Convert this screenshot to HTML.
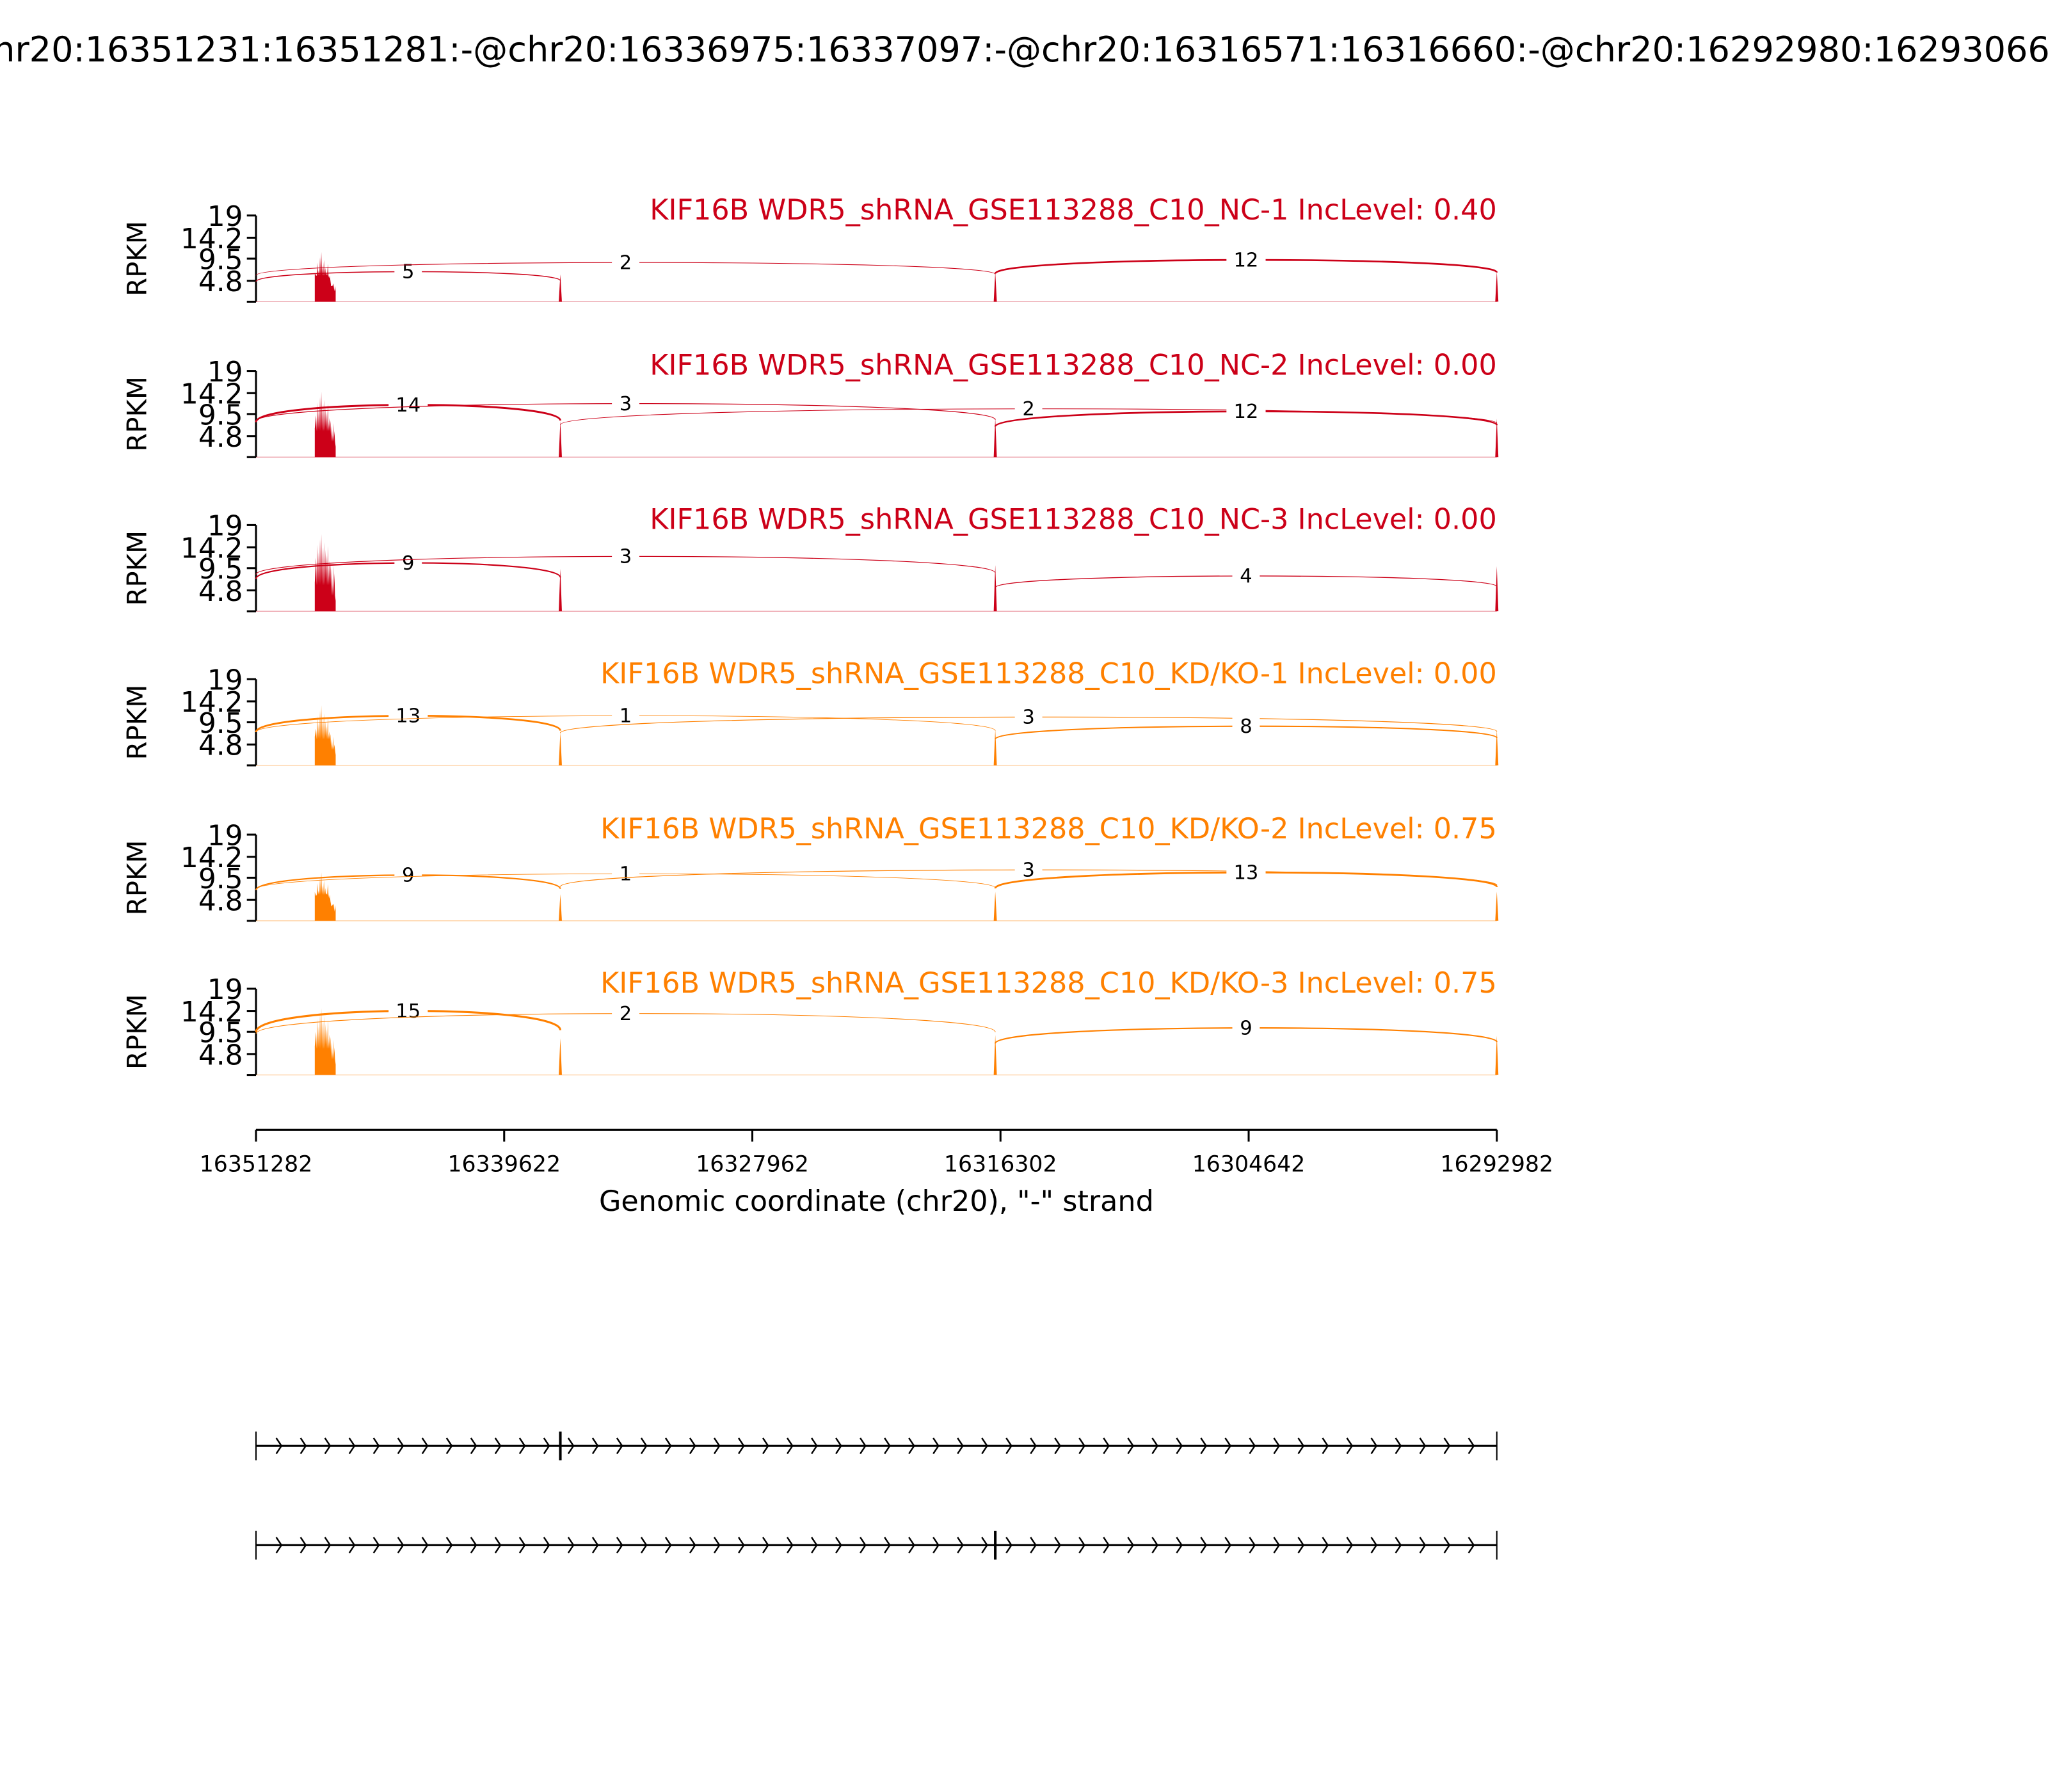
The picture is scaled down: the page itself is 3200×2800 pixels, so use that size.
<!DOCTYPE html>
<html><head><meta charset="utf-8"><style>html,body{margin:0;padding:0;background:#fff}svg{display:block}text{font-family:"DejaVu Sans","Liberation Sans",sans-serif}</style></head>
<body>
<svg id="s" xmlns="http://www.w3.org/2000/svg" width="3200" height="2800" viewBox="0 0 1568 1372" preserveAspectRatio="none">
<rect width="1568" height="1372" fill="#fff"/>
<text x="784" y="47" font-size="26.5" text-anchor="middle">chr20:16351231:16351281:-@chr20:16336975:16337097:-@chr20:16316571:16316660:-@chr20:16292980:16293066:-</text>
<g id="g"></g>
</svg>
<script>
var g=document.getElementById('g'),h='';
var R='#cc0018',O='#ff8000';
var P=[
[165,R,'KIF16B WDR5_shRNA_GSE113288_C10_NC-1 IncLevel: 0.40',193,[[196,429,'5',208],[196,762,'2',201],[762,1146,'12',199]]],
[284,R,'KIF16B WDR5_shRNA_GSE113288_C10_NC-2 IncLevel: 0.00',300,[[196,429,'14',310],[196,762,'3',309],[429,1146,'2',313],[762,1146,'12',315]]],
[402,R,'KIF16B WDR5_shRNA_GSE113288_C10_NC-3 IncLevel: 0.00',409,[[196,429,'9',431],[196,762,'3',426],[762,1146,'4',441]]],
[520,O,'KIF16B WDR5_shRNA_GSE113288_C10_KD/KO-1 IncLevel: 0.00',540,[[196,429,'13',548],[196,762,'1',548],[429,1146,'3',549],[762,1146,'8',556]]],
[639,O,'KIF16B WDR5_shRNA_GSE113288_C10_KD/KO-2 IncLevel: 0.75',668,[[196,429,'9',670],[196,762,'1',669],[429,1146,'3',666],[762,1146,'13',668]]],
[757,O,'KIF16B WDR5_shRNA_GSE113288_C10_KD/KO-3 IncLevel: 0.75',772,[[196,429,'15',774],[196,762,'2',776],[762,1146,'9',787]]]];
P.forEach(function(p){
 var t=p[0],c=p[1],b=t+66;
 h+='<line x1="196" y1="'+t+'" x2="196" y2="'+b+'" stroke="#000" stroke-width="1.5"/>';
 [['19',0],['14.2',17],['9.5',33],['4.8',50],['',66]].forEach(function(k){
  h+='<line x1="189" y1="'+(t+k[1])+'" x2="196" y2="'+(t+k[1])+'" stroke="#000" stroke-width="1.5"/>';
  if(k[0])h+='<text x="186" y="'+(t+k[1]+8)+'" font-size="21.5" text-anchor="end">'+k[0]+'</text>';
 });
 h+='<text transform="translate(112,'+(t+33)+') rotate(-90)" font-size="20.5" text-anchor="middle">RPKM</text>';
 h+='<text x="1146" y="'+(t+3)+'" font-size="21.8" text-anchor="end" fill="'+c+'">'+p[2]+'</text>';
 h+='<line x1="196" y1="'+b+'" x2="1146" y2="'+b+'" stroke="'+c+'" stroke-width="0.6" opacity="0.4"/>';
 var sp=p[3],pts='241,'+b+' 241,'+(b-22);
 var hs=[18,8,14,4,0,10,6,12,16,9,20,22,26,24,30];
 for(var i=0;i<hs.length;i++){var x=242+i;pts+=' '+x+','+(sp+hs[i])+' '+(x+0.5)+','+(b-20+ (i>10?8:0));}
 pts+=' 257,'+(b-8)+' 257,'+b;
 h+='<polygon points="'+pts+'" fill="'+c+'"/>';
 [[429,0.55],[762,0.6],[1146,0.55]].forEach(function(s){
  var top=b-(b-sp)*s[1]+(s[0]==1146?-2:0);
  h+='<polygon points="'+(s[0]-1.2)+','+b+' '+s[0]+','+top+' '+(s[0]+1.2)+','+b+'" fill="'+c+'"/>';
 });
 p[4].forEach(function(j){
  var x1=j[0],x2=j[1],ym=j[3],y1=ym+(b-ym)*0.33,y2=ym+(b-ym)*0.3;
  var yp=(ym-(y1+y2)/8)*4/3;
  var w=Math.min(1.6,0.35+parseInt(j[2])*0.08);
  h+='<path d="M'+x1+' '+y1+' C'+x1+' '+yp+' '+x2+' '+yp+' '+x2+' '+y2+'" fill="none" stroke="'+c+'" stroke-width="'+w+'"/>';
  var mx=(x1+x2)/2,tw=j[2].length*9+12;
  h+='<rect x="'+(mx-tw/2)+'" y="'+(ym-9)+'" width="'+tw+'" height="18" fill="#fff"/>';
  h+='<text x="'+mx+'" y="'+(ym+5)+'" font-size="15" text-anchor="middle">'+j[2]+'</text>';
 });
});
h+='<line x1="196" y1="865" x2="1146" y2="865" stroke="#000" stroke-width="1.5"/>';
['16351282','16339622','16327962','16316302','16304642','16292982'].forEach(function(l,i){
 var x=196+i*190;
 h+='<line x1="'+x+'" y1="865" x2="'+x+'" y2="874" stroke="#000" stroke-width="1.5"/>';
 h+='<text x="'+x+'" y="897" font-size="17" text-anchor="middle">'+l+'</text>';
});
h+='<text x="671" y="927" font-size="21.8" text-anchor="middle">Genomic coordinate (chr20), "-" strand</text>';
[[1107,429],[1183,762]].forEach(function(tr){
 var y=tr[0];
 h+='<line x1="196" y1="'+y+'" x2="1146" y2="'+y+'" stroke="#000" stroke-width="1.5"/>';
 h+='<line x1="196" y1="'+(y-11)+'" x2="196" y2="'+(y+11)+'" stroke="#000" stroke-width="1"/>';
 h+='<line x1="1146" y1="'+(y-11)+'" x2="1146" y2="'+(y+11)+'" stroke="#000" stroke-width="1"/>';
 h+='<line x1="'+tr[1]+'" y1="'+(y-11)+'" x2="'+tr[1]+'" y2="'+(y+11)+'" stroke="#000" stroke-width="2"/>';
 for(var x=215.5;x<1143;x+=18.63){
  h+='<polyline points="'+(x-4)+','+(y-6)+' '+x+','+y+' '+(x-4)+','+(y+6)+'" fill="none" stroke="#000" stroke-width="1.2"/>';
 }
});
g.innerHTML=h;
</script>
</body></html>
